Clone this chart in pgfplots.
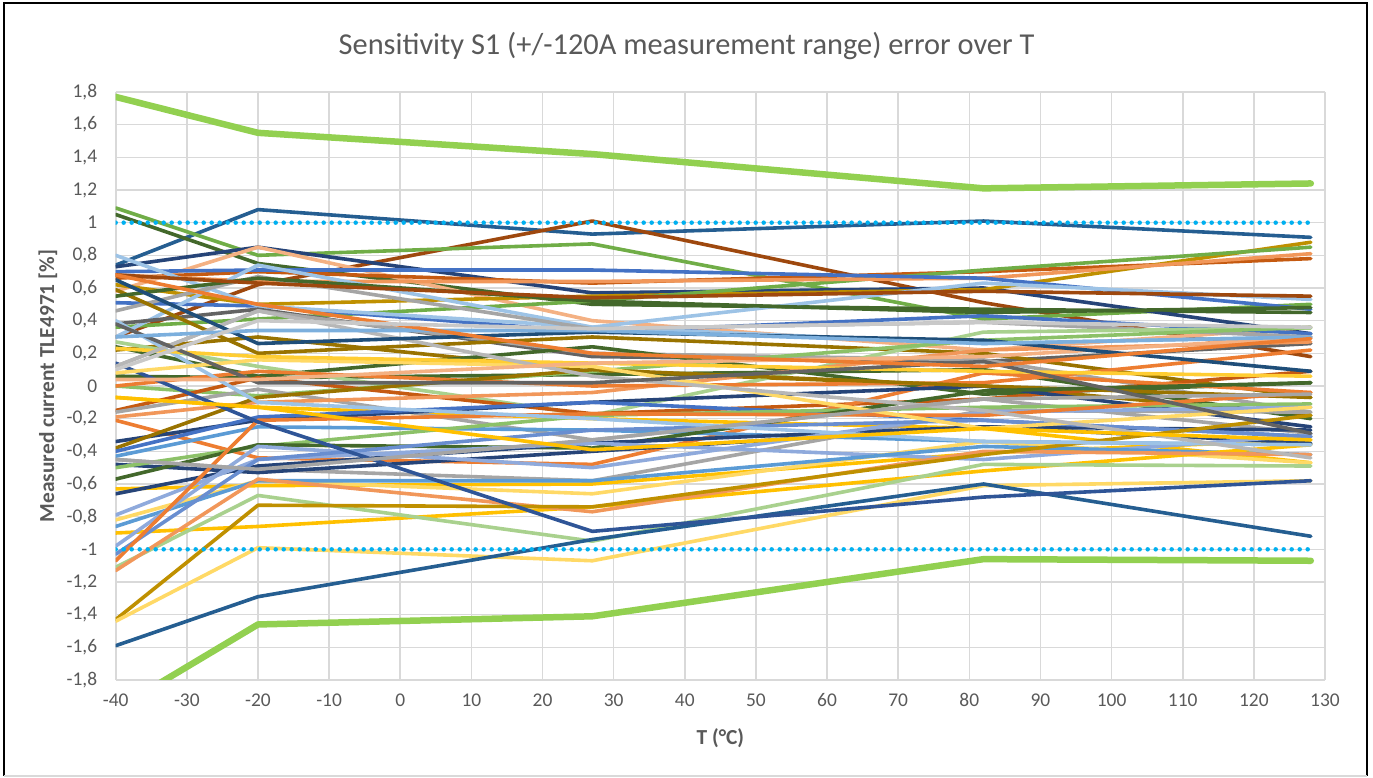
\documentclass[border=0pt]{standalone}
\usepackage{pgfplots}
\pgfplotsset{compat=1.18}
\usepackage{fontspec}
\setmainfont{Carlito}
\definecolor{cB}{HTML}{4472C4}
\definecolor{cO}{HTML}{ED7D31}
\definecolor{cGr}{HTML}{A5A5A5}
\definecolor{cGd}{HTML}{FFC000}
\definecolor{cLb}{HTML}{5B9BD5}
\definecolor{cG}{HTML}{70AD47}
\definecolor{cNv}{HTML}{264478}
\definecolor{cBr}{HTML}{9E480E}
\definecolor{cDgr}{HTML}{636363}
\definecolor{cDgd}{HTML}{997300}
\definecolor{cDsb}{HTML}{255E91}
\definecolor{cDg}{HTML}{43682B}
\definecolor{cBl}{HTML}{698ED0}
\definecolor{cOl}{HTML}{F1975A}
\definecolor{cLgr}{HTML}{B7B7B7}
\definecolor{cY}{HTML}{FFCD33}
\definecolor{cLb2}{HTML}{7CAFDD}
\definecolor{cLg}{HTML}{8CC168}
\definecolor{cOr2}{HTML}{C55A11}
\definecolor{cGd3}{HTML}{BF9000}
\definecolor{cPer}{HTML}{8FAADC}
\definecolor{cOl2}{HTML}{F4B183}
\definecolor{cLgr2}{HTML}{C9C9C9}
\definecolor{cLy}{HTML}{FFD966}
\definecolor{cLb4}{HTML}{9DC3E6}
\definecolor{cLg2}{HTML}{A9D18E}
\definecolor{cNv2}{HTML}{1F4E79}
\definecolor{cB3}{HTML}{2F5597}
\definecolor{cLim}{HTML}{92D050}
\definecolor{cDot}{HTML}{00B0F0}
\definecolor{gridc}{HTML}{D9D9D9}
\definecolor{txtc}{HTML}{595959}
\begin{document}
\begin{tikzpicture}
\path[use as bounding box] (0,0) rectangle (1373bp,778bp);
\begin{axis}[
  at={(115.7bp,98bp)}, anchor=south west,
  width=1209.3bp, height=588bp, scale only axis,
  xmin=-40, xmax=130, ymin=-1.8, ymax=1.8,
  xtick={-40,-30,-20,-10,0,10,20,30,40,50,60,70,80,90,100,110,120,130},
  ytick={-1.8,-1.6,-1.4,-1.2,-1,-0.8,-0.6,-0.4,-0.2,0,0.2,0.4,0.6,0.8,1,1.2,1.4,1.6,1.8},
  grid=major,
  major grid style={draw=gridc, line width=1.6bp},
  axis line style={draw=gridc, line width=1.6bp},
  axis x line*=bottom, axis y line*=left,
  y axis line style={draw=none},
  major tick length=0pt,
  tick style={draw=none},
  ticklabel style={font=\fontsize{19.5}{22}\selectfont, text=txtc},
  xticklabel shift=10bp,
  yticklabel shift=15bp,
  /pgf/number format/.cd, use comma, fixed, precision=1, assume math mode=true,
  /pgfplots/.cd,
  xlabel={T (°C)},
  ylabel={Measured current TLE4971 [\%]},
  label style={font=\bfseries\fontsize{21.5}{24}\selectfont, text=txtc},
  xlabel style={at={(axis description cs:0.5,-0.0986)}, anchor=center},
  ylabel style={at={(axis description cs:-0.056,0.5)}, anchor=center, rotate=0},
  every axis plot/.append style={line width=3.6bp, line join=round, line cap=round, mark=none},
  clip=true,
]
\addplot[cDsb] coordinates {(-40,0.74)(-20,1.08)(27,0.93)(82,1.01)(128,0.91)};
\addplot[cBr] coordinates {(-40,0.30)(-20,0.62)(27,1.01)(82,0.51)(128,0.18)};
\addplot[cG] coordinates {(-40,1.09)(-20,0.80)(27,0.87)(82,0.41)(128,0.50)};
\addplot[cDg] coordinates {(-40,1.05)(-20,0.75)(27,0.50)(82,0.47)(128,0.45)};
\addplot[cNv] coordinates {(-40,0.73)(-20,0.85)(27,0.57)(82,0.60)(128,0.32)};
\addplot[cOl2] coordinates {(-40,0.58)(-20,0.85)(27,0.40)(82,0.22)(128,0.36)};
\addplot[cOr2] coordinates {(-40,0.66)(-20,0.70)(27,0.63)(82,0.70)(128,0.78)};
\addplot[cGd3] coordinates {(-40,0.62)(-20,0.50)(27,0.55)(82,0.59)(128,0.88)};
\addplot[cG] coordinates {(-40,0.36)(-20,0.41)(27,0.52)(82,0.71)(128,0.85)};
\addplot[cOl] coordinates {(-40,0.68)(-20,0.64)(27,0.64)(82,0.66)(128,0.81)};
\addplot[cB] coordinates {(-40,0.70)(-20,0.71)(27,0.71)(82,0.66)(128,0.47)};
\addplot[cB] coordinates {(-40,0.51)(-20,0.49)(27,0.33)(82,0.43)(128,0.32)};
\addplot[cLb4] coordinates {(-40,0.80)(-20,0.49)(27,0.36)(82,0.63)(128,0.53)};
\addplot[cLb4] coordinates {(-40,0.30)(-20,0.74)(27,0.36)(82,0.26)(128,0.30)};
\addplot[cGr] coordinates {(-40,0.46)(-20,0.67)(27,0.35)(82,0.39)(128,0.30)};
\addplot[cDgr] coordinates {(-40,0.38)(-20,0.47)(27,0.18)(82,0.15)(128,0.26)};
\addplot[cGr] coordinates {(-40,0.12)(-20,0.46)(27,0.20)(82,0.16)(128,-0.16)};
\addplot[cDgd] coordinates {(-40,0.59)(-20,0.20)(27,0.30)(82,0.20)(128,-0.07)};
\addplot[cDgd] coordinates {(-40,0.22)(-20,0.30)(27,0.09)(82,0.00)(128,-0.18)};
\addplot[cDg] coordinates {(-40,0.24)(-20,0.06)(27,0.24)(82,-0.05)(128,0.02)};
\addplot[cDg] coordinates {(-40,0.55)(-20,0.66)(27,0.52)(82,0.45)(128,0.48)};
\addplot[cDg] coordinates {(-40,0.06)(-20,0.05)(27,0.07)(82,0.10)(128,-0.20)};
\addplot[cLg2] coordinates {(-40,0.27)(-20,0.12)(27,-0.18)(82,0.33)(128,0.355)};
\addplot[cLg] coordinates {(-40,0.00)(-20,-0.06)(27,0.09)(82,0.28)(128,0.36)};
\addplot[cGd] coordinates {(-40,-0.07)(-20,-0.13)(27,-0.20)(82,-0.26)(128,-0.47)};
\addplot[cOr2] coordinates {(-40,-0.15)(-20,0.05)(27,-0.17)(82,-0.08)(128,0.09)};
\addplot[cO] coordinates {(-40,-0.21)(-20,-0.44)(27,-0.48)(82,0.08)(128,-0.04)};
\addplot[cGr] coordinates {(-40,-0.16)(-20,-0.02)(27,-0.33)(82,-0.08)(128,-0.29)};
\addplot[cOl] coordinates {(-40,-0.19)(-20,-0.10)(27,-0.04)(82,0.22)(128,0.27)};
\addplot[cO] coordinates {(-40,0.00)(-20,0.09)(27,0.00)(82,0.02)(128,0.22)};
\addplot[cNv] coordinates {(-40,-0.34)(-20,-0.21)(27,-0.10)(82,0.00)(128,-0.25)};
\addplot[cDgd] coordinates {(-40,-0.38)(-20,-0.07)(27,0.10)(82,0.00)(128,-0.07)};
\addplot[cB] coordinates {(-40,-0.40)(-20,-0.19)(27,-0.10)(82,-0.21)(128,-0.31)};
\addplot[cLb] coordinates {(-40,-0.43)(-20,-0.25)(27,-0.27)(82,-0.34)(128,-0.36)};
\addplot[cGr] coordinates {(-40,-0.45)(-20,-0.51)(27,-0.58)(82,-0.15)(128,-0.16)};
\addplot[cNv] coordinates {(-40,-0.48)(-20,-0.53)(27,-0.40)(82,-0.25)(128,-0.27)};
\addplot[cLg] coordinates {(-40,-0.50)(-20,-0.37)(27,-0.18)(82,-0.13)(128,-0.11)};
\addplot[cDg] coordinates {(-40,-0.57)(-20,-0.36)(27,-0.38)(82,-0.03)(128,0.02)};
\addplot[cGd] coordinates {(-40,-0.63)(-20,-0.61)(27,-0.60)(82,-0.41)(128,-0.33)};
\addplot[cNv] coordinates {(-40,-0.66)(-20,-0.49)(27,-0.35)(82,-0.25)(128,-0.35)};
\addplot[cPer] coordinates {(-40,-0.79)(-20,-0.45)(27,-0.35)(82,-0.45)(128,-0.30)};
\addplot[cLy] coordinates {(-40,-0.82)(-20,-0.58)(27,-0.66)(82,-0.34)(128,-0.47)};
\addplot[cLb] coordinates {(-40,-0.86)(-20,-0.58)(27,-0.58)(82,-0.37)(128,-0.42)};
\addplot[cGd] coordinates {(-40,-0.90)(-20,-0.86)(27,-0.74)(82,-0.52)(128,-0.36)};
\addplot[cPer] coordinates {(-40,-0.98)(-20,-0.37)(27,-0.50)(82,-0.16)(128,-0.13)};
\addplot[cBl] coordinates {(-40,-1.03)(-20,-0.45)(27,-0.27)(82,-0.21)(128,-0.31)};
\addplot[cO] coordinates {(-40,-1.07)(-20,-0.21)(27,-0.17)(82,-0.18)(128,-0.04)};
\addplot[cLg2] coordinates {(-40,-1.11)(-20,-0.67)(27,-0.95)(82,-0.48)(128,-0.49)};
\addplot[cOl] coordinates {(-40,-1.13)(-20,-0.57)(27,-0.77)(82,-0.40)(128,-0.42)};
\addplot[cGd3] coordinates {(-40,-1.43)(-20,-0.73)(27,-0.74)(82,-0.42)(128,-0.18)};
\addplot[cLy] coordinates {(-40,-1.44)(-20,-0.99)(27,-1.07)(82,-0.61)(128,-0.58)};
\addplot[cDsb] coordinates {(-40,-1.59)(-20,-1.29)(27,-0.94)(82,-0.60)(128,-0.92)};
\addplot[cB3] coordinates {(-40,0.14)(-20,-0.22)(27,-0.89)(82,-0.68)(128,-0.58)};
\addplot[cLb4] coordinates {(-40,0.40)(-20,-0.10)(27,-0.20)(82,-0.34)(128,-0.36)};
\addplot[cLy] coordinates {(-40,0.08)(-20,0.16)(27,0.12)(82,-0.26)(128,-0.13)};
\addplot[cY] coordinates {(-40,0.23)(-20,0.18)(27,0.14)(82,0.09)(128,0.06)};
\addplot[cLgr] coordinates {(-40,0.12)(-20,0.46)(27,0.06)(82,-0.15)(128,-0.44)};
\addplot[cGr] coordinates {(-40,-0.45)(-20,-0.51)(27,-0.33)(82,-0.08)(128,-0.05)};
\addplot[cDgr] coordinates {(-40,0.38)(-20,0.02)(27,0.02)(82,0.15)(128,-0.29)};
\addplot[cOl2] coordinates {(-40,0.04)(-20,0.04)(27,0.14)(82,0.18)(128,0.30)};
\addplot[cNv2] coordinates {(-40,0.65)(-20,0.26)(27,0.33)(82,0.28)(128,0.09)};
\addplot[cLb2] coordinates {(-40,0.30)(-20,0.34)(27,0.34)(82,0.26)(128,0.30)};
\addplot[cGd] coordinates {(-40,-0.07)(-20,-0.13)(27,-0.39)(82,-0.26)(128,-0.33)};
\addplot[cBr] coordinates {(-40,0.68)(-20,0.63)(27,0.54)(82,0.58)(128,0.55)};
\addplot[cO] coordinates {(-40,0.68)(-20,0.50)(27,0.20)(82,0.12)(128,0.29)};
\addplot[cLgr2] coordinates {(-40,0.10)(-20,0.40)(27,0.35)(82,0.39)(128,0.36)};
% limits
\addplot[cDot, line width=4.5bp, line cap=round, dash pattern=on 0bp off 8bp] coordinates {(-40,1)(128,1)};
\addplot[cDot, line width=4.5bp, line cap=round, dash pattern=on 0bp off 8bp] coordinates {(-40,-1)(128,-1)};
\addplot[cLim, line width=6.5bp] coordinates {(-40,1.77)(-20,1.55)(27,1.42)(82,1.21)(128,1.24)};
\addplot[cLim, line width=6.5bp] coordinates {(-40,-1.98)(-20,-1.46)(27,-1.41)(82,-1.06)(128,-1.07)};
\end{axis}
\node[font=\fontsize{30.5}{34}\selectfont, text=txtc, anchor=center] at (686.5bp,732bp) {Sensitivity S1 (+/-120A measurement range) error over T};
\draw[black, line width=2bp] (4bp,2bp) -- (4bp,775bp) -- (1367bp,775bp) -- (1367bp,2bp);
\draw[gridc, line width=2bp] (4bp,2bp) -- (1367bp,2bp);
\end{tikzpicture}
\end{document}
